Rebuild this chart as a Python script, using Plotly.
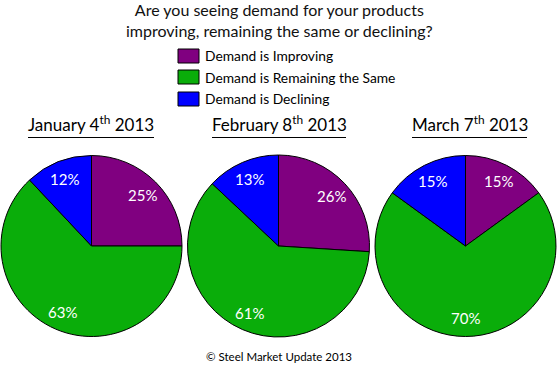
import math
import plotly.graph_objects as go

categories = ["Demand is Improving", "Demand is Remaining the Same", "Demand is Declining"]
colors = ["#800080", "#0AAD0A", "#0000FF"]
survey_titles = ["January 4<sup>th</sup> 2013", "February 8<sup>th</sup> 2013", "March 7<sup>th</sup> 2013"]
jan_values = [25, 63, 12]
feb_values = [26, 61, 13]
mar_values = [15, 70, 15]

W, H = 557, 366
FONT = "Lato"

series = [jan_values, feb_values, mar_values]
pie_px = [(1, 182), (187, 370), (375, 556)]
underline_px = [(28, 154), (212, 346), (412, 527)]
pie_top, pie_bottom = 155, 337

fig = go.Figure()
for vals, (x0, x1), title, (u0, u1) in zip(series, pie_px, survey_titles, underline_px):
    fig.add_trace(go.Pie(
        labels=categories,
        values=vals,
        sort=False,
        direction="clockwise",
        rotation=0,
        marker=dict(colors=colors, line=dict(color="black", width=1)),
        textinfo="none",
        hoverinfo="label+percent",
        showlegend=False,
        domain=dict(x=[x0 / W, x1 / W], y=[(H - pie_bottom) / H, (H - pie_top) / H]),
    ))
    # data labels placed along each slice's mid-angle
    cx = (x0 + x1) / 2
    cy = (pie_top + pie_bottom) / 2
    r = min(x1 - x0, pie_bottom - pie_top) / 2
    total = sum(vals)
    cum = 0
    for v in vals:
        mid = (cum + v / 2) / total * 2 * math.pi
        cum += v
        lx = cx + 0.8 * r * math.sin(mid)
        ly = cy - 0.8 * r * math.cos(mid)
        fig.add_annotation(x=lx / W, y=(H - ly) / H, xref="paper", yref="paper",
                           text=f"{v}%", showarrow=False, xanchor="center", yanchor="middle",
                           font=dict(family=FONT, size=15, color="white"))
    fig.add_annotation(
        x=(u0 + u1) / 2 / W, y=(H - 137) / H, xref="paper", yref="paper",
        text=title, showarrow=False, xanchor="center", yanchor="bottom",
        font=dict(family=FONT, size=17, color="black"),
    )
    fig.add_shape(type="line", xref="paper", yref="paper",
                  x0=u0 / W, x1=u1 / W, y0=(H - 137.5) / H, y1=(H - 137.5) / H,
                  line=dict(color="black", width=1))

# legend
leg_y = [49, 70, 92]
for cat, col, y in zip(categories, colors, leg_y):
    fig.add_shape(type="rect", xref="paper", yref="paper",
                  x0=178 / W, x1=199 / W, y0=(H - y - 14) / H, y1=(H - y) / H,
                  fillcolor=col, line=dict(color="black", width=1))
    fig.add_annotation(x=203 / W, y=(H - y - 7) / H, xref="paper", yref="paper",
                       text=cat, showarrow=False, xanchor="left", yanchor="middle",
                       font=dict(family=FONT, size=13.8, color="black"))

fig.add_annotation(x=279 / W, y=(H + 2) / H, xref="paper", yref="paper",
                   text="Are you seeing demand for your products<br>improving, remaining the same or declining?",
                   showarrow=False, xanchor="center", yanchor="top",
                   font=dict(family=FONT, size=16, color="#111111"))
fig.add_annotation(x=279 / W, y=(H - 356) / H, xref="paper", yref="paper",
                   text="© Steel Market Update 2013", showarrow=False,
                   xanchor="center", yanchor="middle",
                   font=dict(family=FONT, size=11.5, color="black"))

fig.update_layout(
    width=W, height=H,
    margin=dict(l=0, r=0, t=0, b=0),
    paper_bgcolor="white", plot_bgcolor="white",
    font=dict(family=FONT),
)
fig.write_html("out.html", config={"displayModeBar": False},
               post_script="document.body.style.margin='0';")
